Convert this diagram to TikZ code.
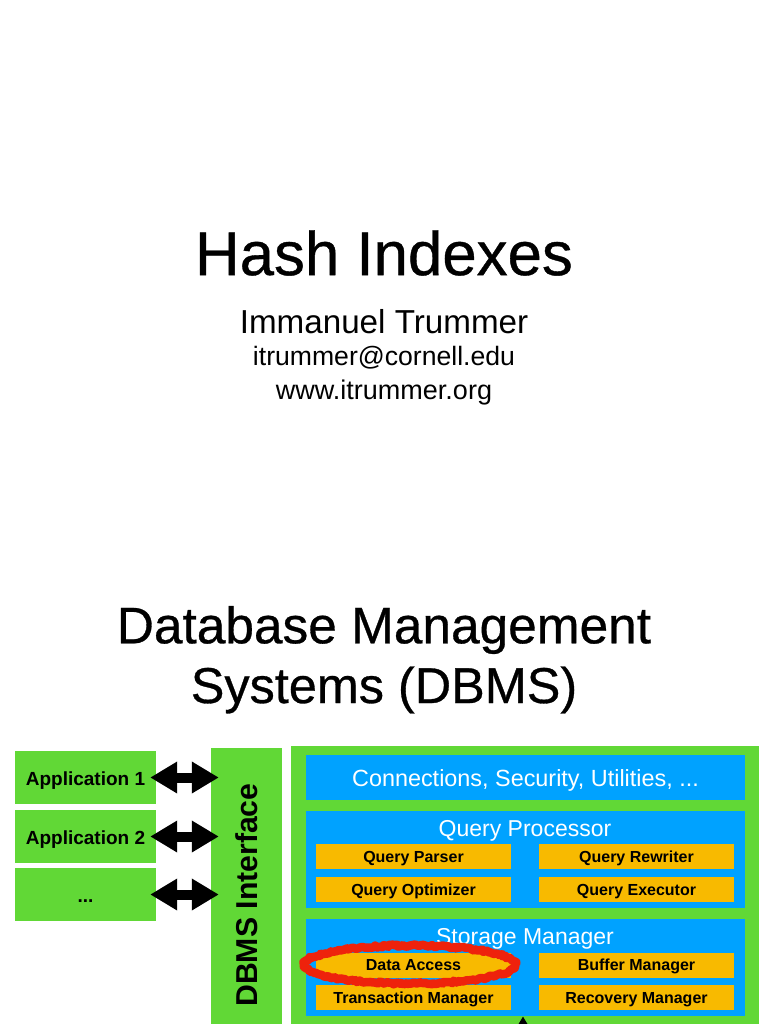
\documentclass[tikz,border=0pt]{standalone}
\usepackage{fontspec}
\setmainfont{Liberation Sans}
\newfontfamily\titlefont[FakeBold=0.6]{Liberation Sans}
\usetikzlibrary{arrows.meta,decorations.pathmorphing}
\definecolor{boxgreen}{HTML}{61D836}
\definecolor{boxblue}{HTML}{00A2FF}
\definecolor{boxorange}{HTML}{F8BA00}
\definecolor{scribblered}{HTML}{EE220C}
\newcommand{\fsize}[1]{\fontsize{#1}{#1}\selectfont}
\tikzset{
	appbox/.style={fill=boxgreen, minimum width=141pt, minimum height=53pt, inner sep=0pt, text height=17pt, text depth=2pt, font=\fsize{19}\bfseries},
	layerbox/.style={fill=boxblue, text=white, minimum width=439pt, inner sep=0pt, text height=19pt, text depth=1pt, font=\fsize{23.4}},
	layertitle/.style={inner sep=0pt, anchor=base, text=white, font=\fsize{23}},
	partbox/.style={fill=boxorange, minimum width=195pt, minimum height=25pt, inner sep=0pt, text height=14pt, text depth=2.4pt, font=\fsize{16}\bfseries},
	titletext/.style={inner sep=0pt, font=\fsize{#1}\titlefont},
	smalltext/.style={inner sep=0pt, font=\fsize{#1}},
	bothway/.style={line width=10pt, {Triangle[length=27pt,width=30pt]}-{Triangle[length=27pt,width=30pt]}, shorten <=-6pt, shorten >=-8pt},
	scribble/.style={draw=scribblered, line width=#1, line join=round, decorate, decoration={random steps, segment length=2pt, amplitude=1.2pt}}
}
\begin{document}
\begin{tikzpicture}[x=1pt, y=-1pt]
	\useasboundingbox (0, 0) rectangle (768, 1024);
	% titles
	\node[titletext=61.8] (title) at (384, 253) {Hash Indexes};
	\node[smalltext=33.2] (author) at (384, 322) {Immanuel Trummer};
	\node[smalltext=26.6] (mail) at (384, 358) {itrummer@cornell.edu};
	\node[smalltext=27] (web) at (384, 393) {www.itrummer.org};
	\node[titletext=51.4] (head1) at (384, 630) {Database Management};
	\node[titletext=50.4] (head2) at (384, 690) {Systems (DBMS)};
	% left side
	\node[appbox] (app1) at (85.5, 777.5) {Application 1};
	\node[appbox] (app2) at (85.5, 836.5) {Application 2};
	\node[appbox] (app3) at (85.5, 894.5) {...};
	\node[fill=boxgreen, minimum width=71pt, minimum height=294pt, inner sep=0pt] (dbms) at (246.5, 895)
		{\rotatebox{90}{\fsize{30.2}\bfseries DBMS Interface}};
	\foreach \i in {1, ..., 3}
		\draw[bothway] (app\i.east) -- (app\i.east -| dbms.west);
	% right side
	\node[fill=boxgreen, minimum width=468pt, minimum height=300pt, inner sep=0pt] (system) at (525, 896) {};
	\node[layerbox, minimum height=45pt] (conn) at (525.5, 777.5) {Connections, Security, Utilities, ...};
	\node[layerbox, minimum height=97pt] (query) at (525.5, 859.5) {};
	\node[layertitle] (querytitle) at (525, 836) {Query Processor};
	\node[partbox] (parser) at (413.5, 856.5) {Query Parser};
	\node[partbox] (rewriter) at (636.5, 856.5) {Query Rewriter};
	\node[partbox] (optimizer) at (413.5, 889.5) {Query Optimizer};
	\node[partbox] (executor) at (636.5, 889.5) {Query Executor};
	\node[layerbox, minimum height=97pt] (storage) at (525.5, 967.5) {};
	\node[layertitle] (storagetitle) at (525, 944) {Storage Manager};
	\node[partbox] (access) at (413.5, 965) {Data Access};
	\node[partbox] (buffer) at (636.5, 965) {Buffer Manager};
	\node[partbox] (transaction) at (413.5, 997.5) {Transaction Manager};
	\node[partbox] (recovery) at (636.5, 997.5) {Recovery Manager};
	\coordinate (disk) at (523, 1060);
	\draw[line width=10pt, -{Triangle[length=27pt,width=30pt]}] (disk) -- (disk |- storage.south);
	% red mark
	\draw[scribble=8.5pt] (410, 964.5) ellipse [x radius=105.5, y radius=19];
\end{tikzpicture}
\end{document}
